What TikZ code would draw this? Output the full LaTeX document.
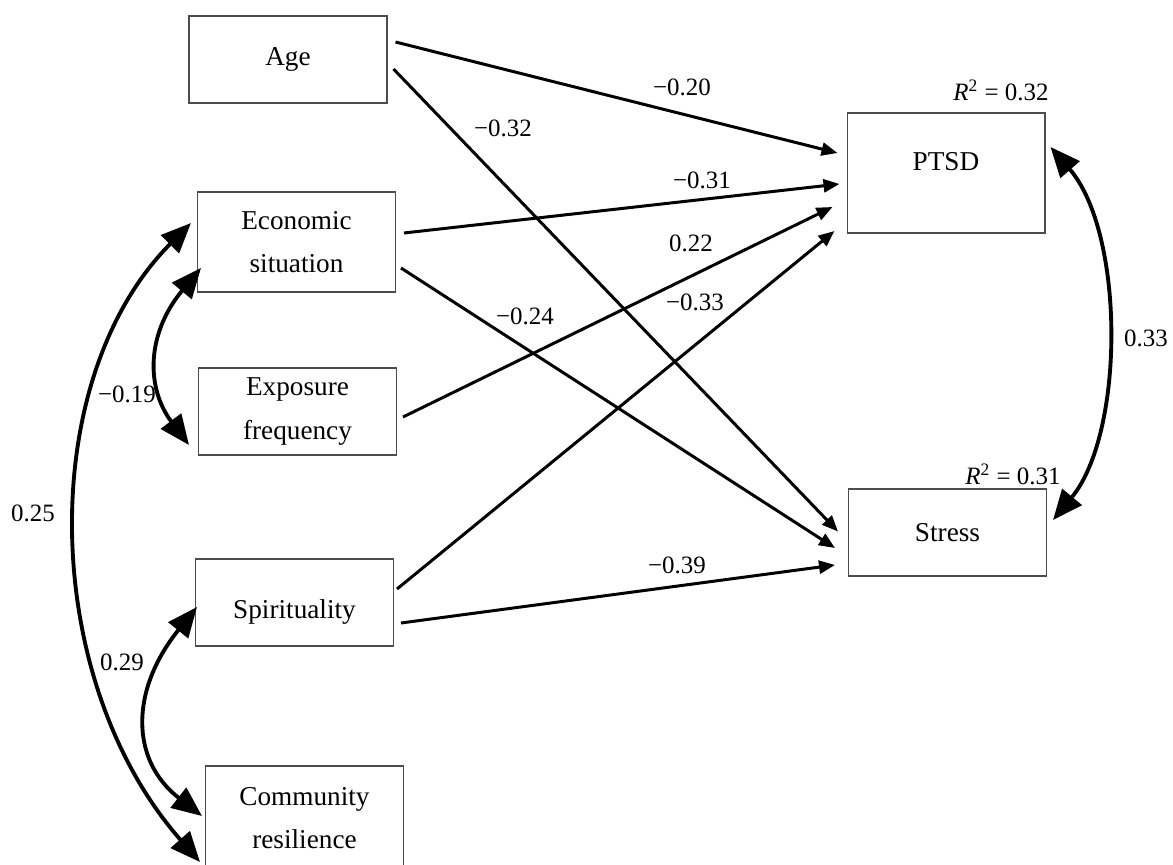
\documentclass[tikz,border=0pt]{standalone}
\usepackage{fontspec}
\setmainfont{Liberation Serif}
\usetikzlibrary{arrows.meta,calc}

\tikzset{
  var/.style={draw=black!70, line width=0.6pt, minimum width=3.96cm, minimum height=1.74cm,
    align=center, inner sep=0pt, font=\fontsize{15.5}{24.5}\selectfont},
  effect/.style={line width=1.7pt, -{Triangle[length=0.32cm,width=0.26cm]}},
  covar/.style={line width=2.2pt,
    {Triangle[length=0.6cm,width=0.5cm]}-{Triangle[length=0.6cm,width=0.5cm]}},
  coef/.style={inner sep=0pt, font=\fontsize{14.2}{17}\selectfont},
}

\begin{document}
\begin{tikzpicture}[x=0.02cm, y=-0.02cm]
        \useasboundingbox (0,0) rectangle (1173,865);
        \clip (0,0) rectangle (1173,865);

        % predictors
        \node[var] (age) at (288,59.5) {Age};
        \node[var, minimum height=2cm] (econ) at (296.5,242) {Economic\\situation};
        \node[var] (expo) at (297.5,411.5) {Exposure\\frequency};
        \node[var, text height=0.77cm] (spir) at (294.5,602.5) {Spirituality};
        \node[var, minimum height=2.08cm] (comm) at (304.5,818) {Community\\resilience};

        % outcomes
        \node[var, minimum height=2.4cm, text depth=0.48cm] (ptsd) at (946,173) {PTSD};
        \node[var] (stress) at (947.5,532.5) {Stress};
        \node[coef] (r2ptsd) at (1001,90) {\textit{R}\textsuperscript{2} = 0.32};
        \node[coef] (r2stress) at (1013,474) {\textit{R}\textsuperscript{2} = 0.31};

        % direct effects
        \draw[effect] ($(age.east)+(8,-17.5)$) -- ($(ptsd.west)+(-9,-20)$);
        \draw[effect] ($(age.east)+(6,9.5)$) -- ($(stress.west)+(-10,-1)$);
        \draw[effect] ($(econ.east)+(8,-9)$) -- ($(ptsd.west)+(-7,11)$);
        \draw[effect] ($(econ.east)+(5,26)$) -- ($(stress.west)+(-13,15.5)$);
        \draw[effect] ($(expo.east)+(6,5.5)$) -- ($(ptsd.west)+(-14,34)$);
        \draw[effect] ($(spir.east)+(3,-13.5)$) -- ($(ptsd.west)+(-12,58)$);
        \draw[effect] ($(spir.east)+(7,20.5)$) -- ($(stress.west)+(-13,32.5)$);

        \node[coef] (lAgeP) at (682,87) {−0.20};
        \node[coef] (lAgeS) at (503,128) {−0.32};
        \node[coef] (lEcoP) at (702,180) {−0.31};
        \node[coef] (lEcoS) at (525,316) {−0.24};
        \node[coef] (lExpP) at (691,243) {0.22};
        \node[coef] (lSpiP) at (695,302) {−0.33};
        \node[coef] (lSpiS) at (677,565) {−0.39};

        % covariances
        \draw[covar] ($(econ.west)+(4,26)$) .. controls (146,334) and (146,388) .. ($(expo.west)+(-9,33.5)$);
        \draw[covar] ($(econ.west)+(-6,-19)$) .. controls (35,380) and (40,680) .. ($(comm.west)+(-5,44)$);
        \draw[covar] ($(spir.west)+(2,4.5)$) .. controls (130,690) and (130,760) .. ($(comm.west)+(-3,-2)$);
        \draw[covar] ($(ptsd.east)+(5,-26)$) .. controls (1125,233) and (1125,433) .. ($(stress.east)+(6,-12.5)$);

        \node[coef] (lEcoExp) at (127,394) {−0.19};
        \node[coef] (lEcoCom) at (33,513) {0.25};
        \node[coef] (lSpiCom) at (122,662) {0.29};
        \node[coef] (lPtsdStr) at (1146,338) {0.33};
\end{tikzpicture}
\end{document}
